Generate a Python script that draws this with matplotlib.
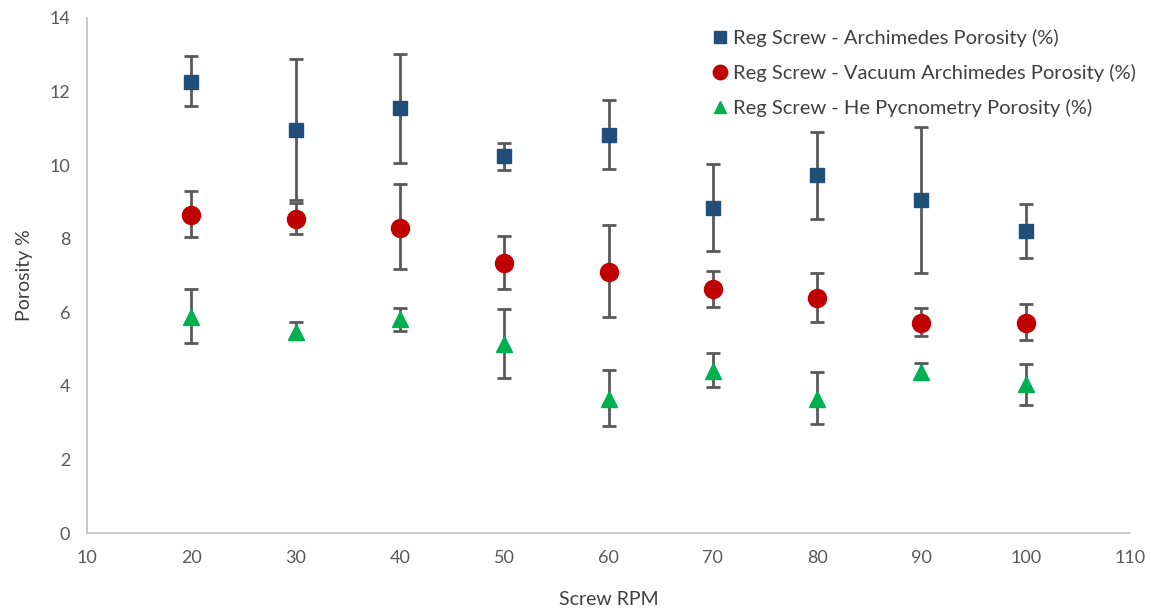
import matplotlib.pyplot as plt
import numpy as np

# Datos
rpm = [20, 30, 40, 50, 60, 70, 80, 90, 100]

arch = [12.26, 10.95, 11.55, 10.24, 10.82, 8.83, 9.73, 9.05, 8.21]
arch_hi = [12.96, 12.88, 13.02, 10.60, 11.78, 10.03, 10.90, 11.04, 8.94]
arch_lo = [11.60, 9.05, 10.05, 9.86, 9.89, 7.66, 8.54, 7.06, 7.47]

vac = [8.64, 8.53, 8.29, 7.33, 7.10, 6.63, 6.39, 5.70, 5.70]
vac_hi = [9.30, 8.97, 9.48, 8.08, 8.37, 7.12, 7.06, 6.11, 6.22]
vac_lo = [8.05, 8.12, 7.17, 6.63, 5.87, 6.15, 5.73, 5.36, 5.24]

he = [5.88, 5.47, 5.81, 5.14, 3.64, 4.40, 3.64, 4.37, 4.05]
he_hi = [6.63, 5.73, 6.11, 6.09, 4.43, 4.89, 4.38, 4.63, 4.60]
he_lo = [5.16, 5.30, 5.49, 4.21, 2.92, 3.97, 2.96, 4.20, 3.47]

labels = ['Reg Screw - Archimedes Porosity (%)',
          'Reg Screw - Vacuum Archimedes Porosity (%)',
          'Reg Screw - He Pycnometry Porosity (%)']

plt.rcParams['font.family'] = ['Lato', 'DejaVu Sans']

fig = plt.figure(figsize=(11.51, 6.14), dpi=100)
ax = fig.add_axes([87 / 1151, 1 - 533 / 614, (1130 - 87) / 1151, (533 - 18) / 614])

series = [
    (arch, arch_lo, arch_hi, 's', '#1F4E79', 10),
    (vac, vac_lo, vac_hi, 'o', '#C00000', 13),
    (he, he_lo, he_hi, '^', '#00B050', 11.5),
]
for (y, lo, hi, mk, col, ms), lab in zip(series, labels):
    y = np.array(y)
    err = [y - np.array(lo), np.array(hi) - y]
    ax.errorbar(rpm, y, yerr=err, fmt=mk, color=col, ms=ms, mec=col,
                ecolor='#595959', elinewidth=2, capsize=5, capthick=2, label=lab)

ax.set_xlim(10, 110)
ax.set_ylim(0, 14)
ax.set_xticks(range(10, 111, 10))
ax.set_yticks(range(0, 15, 2))

for s in ['top', 'right']:
    ax.spines[s].set_visible(False)
for s in ['left', 'bottom']:
    ax.spines[s].set_color('#BFBFBF')
    ax.spines[s].set_linewidth(1.2)
ax.tick_params(length=0, labelsize=13, colors='#595959', pad=12)

ax.set_xlabel('Screw RPM', fontsize=14, color='#404040', labelpad=18)
ax.set_ylabel('Porosity %', fontsize=14, color='#404040', labelpad=12)

# Leyenda sin barras de error
handles, labs = ax.get_legend_handles_labels()
handles = [h[0] for h in handles]
ax.legend(handles, labs, loc='upper left', bbox_to_anchor=(700 / 1151, 1 - 19 / 614),
          bbox_transform=fig.transFigure, frameon=False, fontsize=14.5,
          handletextpad=0.15, labelspacing=0.85, handlelength=1.0, borderpad=0,
          labelcolor='#404040', markerscale=0.8)

fig.savefig('out.png', dpi=100)
